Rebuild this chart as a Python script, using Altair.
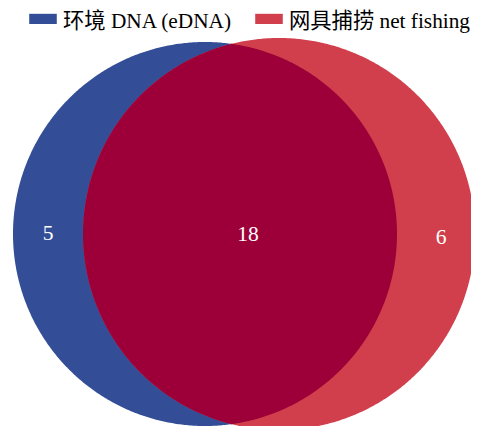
import numpy as np
import pandas as pd
import altair as alt

# Venn data
set_names = ["环境 DNA (eDNA)", "网具捕捞 net fishing"]
set_colors = ["#334e97", "#d13f4c"]
overlap_color = "#9d0038"
only_counts = [5, 6]
shared_count = 18

# circle geometry (in page-pixel data units)
centers_x = [205.0, 279.0]
centers_y = [234.0, 234.0]
radii = [192.0, 196.0]
label_x = [48.0, 441.0, 248.0]
label_y = [234.0, 238.0, 235.0]

t = np.linspace(-np.pi / 2, np.pi / 2, 361)


def circle_df(i):
    cx, cy, r = centers_x[i], centers_y[i], radii[i]
    return pd.DataFrame({
        "y": cy + r * np.sin(t),
        "x": cx - r * np.cos(t),
        "x2": cx + r * np.cos(t),
        "set": set_names[i],
    })


# lens (intersection) bounds
d = centers_x[1] - centers_x[0]
a = (d ** 2 + radii[0] ** 2 - radii[1] ** 2) / (2 * d)
h = np.sqrt(radii[0] ** 2 - a ** 2)
dy = h * np.sin(t)
lens = pd.DataFrame({
    "y": centers_y[0] + dy,
    "x": centers_x[1] - np.sqrt(radii[1] ** 2 - dy ** 2),
    "x2": centers_x[0] + np.sqrt(radii[0] ** 2 - dy ** 2),
})

labels = pd.DataFrame({
    "x": label_x,
    "y": label_y,
    "text": [str(only_counts[0]), str(only_counts[1]), str(shared_count)],
})

W, H = 463, 418
xs = alt.Scale(domain=[8, 8 + W], nice=False, zero=False)
ys = alt.Scale(domain=[8, 8 + H], nice=False, zero=False, reverse=True)

color = alt.Color(
    "set:N",
    scale=alt.Scale(domain=set_names, range=set_colors),
    legend=alt.Legend(
        title=None,
        orient="none",
        direction="horizontal",
        legendX=21,
        legendY=0,
        symbolType="M-1,-0.62H1V0.12H-1Z",
        symbolSize=760,
        symbolStrokeWidth=0,
        symbolOpacity=1,
        labelFont="Liberation Serif, Noto Sans CJK SC",
        labelFontSize=21.3,
        labelColor="#000000",
        labelOffset=6,
        columnPadding=22,
        labelLimit=300,
    ),
)


def circ_layer(i):
    return alt.Chart(circle_df(i)).mark_area(orient="horizontal", opacity=1, interpolate="linear").encode(
        y=alt.Y("y:Q", scale=ys, axis=None),
        x=alt.X("x:Q", scale=xs, axis=None),
        x2="x2:Q",
        color=color,
    )


lens_layer = alt.Chart(lens).mark_area(orient="horizontal", color=overlap_color, opacity=1).encode(
    y=alt.Y("y:Q", scale=ys, axis=None),
    x=alt.X("x:Q", scale=xs, axis=None),
    x2="x2:Q",
)

text_layer = alt.Chart(labels).mark_text(
    font="Liberation Serif", fontSize=21.5, color="white", align="center", baseline="middle"
).encode(
    x=alt.X("x:Q", scale=xs, axis=None),
    y=alt.Y("y:Q", scale=ys, axis=None),
    text="text:N",
)

chart = alt.layer(circ_layer(0), circ_layer(1), lens_layer, text_layer).properties(
    width=W, height=H, padding=0, autosize=alt.AutoSizeParams(type="none")
).configure_view(stroke=None)

chart.save("out.html", embed_options={"renderer": "svg", "actions": False})
